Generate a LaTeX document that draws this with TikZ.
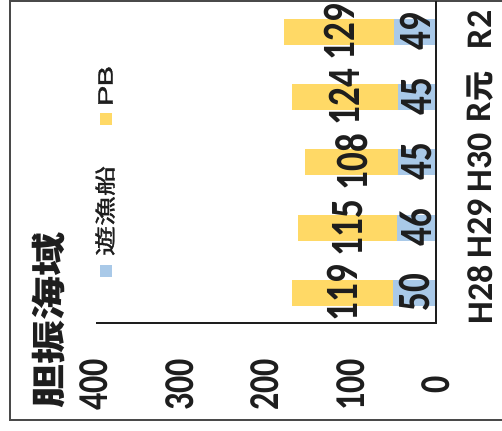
\documentclass[tikz,border=0pt]{standalone}
\usepackage{fontspec}
\usepackage{graphicx}
\newfontfamily\cjk{Noto Sans CJK JP}
\newfontfamily\cjkmed{Noto Sans CJK JP}[FakeBold=1.2]
\newfontfamily\num{Carlito}
\newfontfamily\legfont{Liberation Sans}[FakeBold=1.2]
\definecolor{pbyellow}{HTML}{FFD966}
\definecolor{boatblue}{HTML}{A9C9E8}
\definecolor{ink}{HTML}{1E1E1E}
\definecolor{framegray}{HTML}{4A4A4A}
\newcommand{\vsc}[2]{\scalebox{1}[#1]{#2}}
\begin{document}
\begin{tikzpicture}[x=1pt,y=-1pt,
  frameline/.style={draw=framegray,line width=1.8pt},
  axisline/.style={draw=ink,line width=1.2pt},
  vlab/.style={rotate=90,inner sep=0pt,text=ink,font=\num\bfseries\fontsize{37}{37}\selectfont},
  alab/.style={rotate=90,inner sep=0pt,text=ink,font=\num\bfseries\fontsize{34}{34}\selectfont},
  clab/.style={rotate=90,inner sep=0pt,text=ink,font=\num\bfseries\fontsize{36}{36}\selectfont},
  titlelab/.style={rotate=90,inner sep=0pt,text=ink,font=\cjk\bfseries\fontsize{44}{44}\selectfont},
  leglab/.style={rotate=90,inner sep=0pt,text=ink,font=\cjkmed\fontsize{30}{30}\selectfont},
  legpblab/.style={rotate=90,inner sep=0pt,text=ink,font=\legfont\fontsize{31}{31}\selectfont}]
\useasboundingbox (0,0) rectangle (502,430);
% outer frame
\coordinate (ftl) at (10,1);
\coordinate (fbl) at (10,420);
\coordinate (ftr) at (502,1);
\coordinate (fbr) at (502,420);
\draw[frameline] (ftr) -- (ftl) -- (fbl) -- (fbr);
% bars
\foreach \c/\b/\p in {293/50/119, 228/46/115, 162/45/108, 97/45/124, 32/49/129} {
  \pgfmathsetmacro\xb{436-0.855*\b}
  \pgfmathsetmacro\xy{\xb-0.855*\p}
  \fill[boatblue] (\xb,\c-13) rectangle (436,\c+13);
  \fill[pbyellow] (\xy,\c-13) rectangle (\xb,\c+13);
  \node[vlab] (blue\c) at ({(436+\xb)/2},\c) {\vsc{1.25}{\b}};
  \node[vlab] (pb\c) at ({(\xb+\xy)/2},\c) {\vsc{1.25}{\p}};
}
% axes
\coordinate (atop) at (436,1);
\coordinate (acorner) at (436,323);
\coordinate (aleft) at (96,323);
\draw[axisline] (atop) -- (acorner) -- (aleft);
% value axis labels
\node[alab] (v400) at (94,385) {\vsc{1.25}{400}};
\node[alab] (v300) at (179.5,385) {\vsc{1.25}{300}};
\node[alab] (v200) at (265,385) {\vsc{1.25}{200}};
\node[alab] (v100) at (350.5,385) {\vsc{1.25}{100}};
\node[alab] (v0) at (436,385) {\vsc{1.25}{0}};
% category labels
\node[clab] (cH28) at (480,295) {H28};
\node[clab] (cH29) at (480,229) {H29};
\node[clab] (cH30) at (480,163) {H30};
\node[clab] (cR1) at (480,97) {R{\cjk\bfseries\fontsize{30}{30}\selectfont 元}};
\node[clab] (cR2) at (480,30) {R2};
% title
\node[titlelab] (title) at (49,320) {\vsc{0.78}{胆振海域}};
% legend
\fill[boatblue] (100,265) rectangle (112,277);
\node[leglab] (legboat) at (105,211) {\vsc{0.7}{遊漁船}};
\fill[pbyellow] (100,113) rectangle (112,125);
\node[legpblab] (legpb) at (105.5,86) {\vsc{0.67}{P\kern-1ptB}};
\end{tikzpicture}
\end{document}
